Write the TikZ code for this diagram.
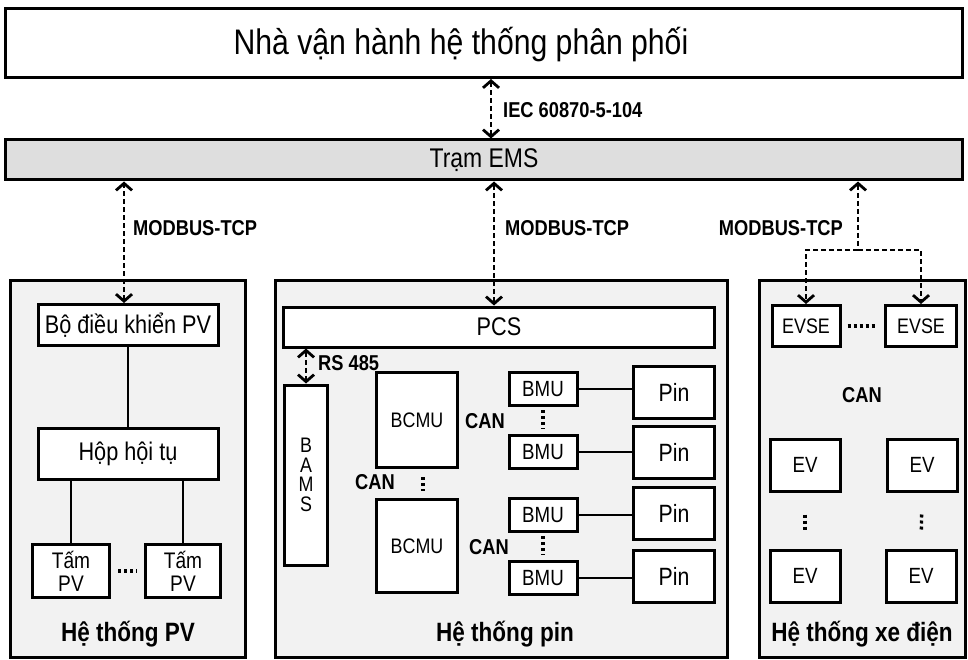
\documentclass[tikz,border=0pt]{standalone}
\usepackage{fontspec}
\setmainfont{Liberation Sans}[FakeStretch=0.85]
\usetikzlibrary{arrows.meta}

\begin{document}
\begin{tikzpicture}[x=1pt, y=-1pt,
    box/.style={draw, line width=3pt, fill=white, inner sep=0pt, font=\fontsize{25.5}{28}\selectfont},
    small/.style={box, font=\fontsize{21}{23}\selectfont},
    panel/.style={draw, line width=3pt, fill=black!5},
    link/.style={line width=2.8pt, dash pattern=on 5pt off 3pt, >={Straight Barb[length=7pt,width=16pt]}},
    wire/.style={line width=2.6pt},
    dots/.style={line width=3.4pt, dash pattern=on 3pt off 3pt},
    lab/.style={font=\bfseries\fontsize{21.5}{23}\selectfont, inner sep=0pt},
    sys/.style={font=\bfseries\fontsize{26.5}{28}\selectfont, inner sep=0pt}]
    \useasboundingbox (0,0) rectangle (968,660);
    \node[box, minimum width=957pt, minimum height=69pt] (ops) at (484,43) {};
    \node[font=\fontsize{35.5}{38}\selectfont, inner sep=0pt] (opstext) at (461,45) {Nhà vận hành hệ thống phân phối};
    \node[box, fill=black!13, minimum width=957pt, minimum height=40pt, font=\fontsize{27}{29}\selectfont] (ems) at (484,160) {Trạm EMS};
    \draw[link,<->] ([xshift=7pt]ops.south) -- ([xshift=7pt]ems.north);
    \node[lab, anchor=west] (iec) at (503,110) {IEC 60870-5-104};

    \draw[panel] (10,280) rectangle (245,657);
    \draw[panel] (275,280) rectangle (727,657);
    \draw[panel] (759,280) rectangle (965,657);

    \node[box, minimum width=180pt, minimum height=41pt] (ctrl) at (128,325) {Bộ điều khiển PV};
    \node[box, minimum width=180pt, minimum height=51pt] (hop) at (128,454) {Hộp hội tụ};
    \node[box, minimum width=77pt, minimum height=53pt, align=center, font=\fontsize{22.5}{23}\selectfont] (tam1) at (71,571) {Tấm\\PV};
    \node[box, minimum width=75pt, minimum height=53pt, align=center, font=\fontsize{22.5}{23}\selectfont] (tam2) at (183,571) {Tấm\\PV};
    \node[sys] (pvsys) at (128,634) {Hệ thống PV};
    \draw[wire] (ctrl) -- (hop);
    \draw[wire] (tam1.north) -- (tam1.north |- hop.south);
    \draw[wire] (tam2.north) -- (tam2.north |- hop.south);
    \draw[dots, shorten <=7pt, shorten >=7pt] (tam1.east) -- (tam2.west);
    \draw[link,<->] ([xshift=-4pt]ctrl.north) -- ([xshift=-4pt]ctrl.north |- ems.south);
    \node[lab, anchor=west] (mb1) at (133,228) {MODBUS-TCP};

    \node[box, minimum width=431pt, minimum height=40pt] (pcs) at (499,327) {PCS};
    \node[small, minimum width=43pt, minimum height=180pt, align=center, font=\fontsize{21}{19.5}\selectfont] (bams) at (306,475) {B\\A\\M\\S};
    \node[small, minimum width=81pt, minimum height=95pt] (bcmu1) at (417,420) {BCMU};
    \node[small, minimum width=81pt, minimum height=93pt] (bcmu2) at (417,546) {BCMU};
    \foreach \i/\y in {1/389,2/452,3/515,4/578}
        \node[small, minimum width=68pt, minimum height=33pt, font=\fontsize{22}{24}\selectfont] (bmu\i) at (543,\y) {BMU};
    \foreach \i/\y in {1/392,2/452,3/513,4/576}
        \node[box, minimum width=81pt, minimum height=52pt, font=\fontsize{25}{27}\selectfont] (pin\i) at (674,\y) {Pin};
    \foreach \i in {1,...,4}
        \draw[wire] (bmu\i.east) -- (bmu\i.east -| pin\i.west);
    \draw[dots, shorten <=3pt, shorten >=5pt] (bmu1) -- (bmu2);
    \draw[dots, shorten <=3pt, shorten >=5pt] (bmu3) -- (bmu4);
    \draw[dots, shorten <=8pt, shorten >=7pt] ([xshift=6pt]bcmu1.south) -- ([xshift=6pt]bcmu2.north);
    \node[lab] (can0) at (375,482) {CAN};
    \node[lab, anchor=west] (can1) at (465,421) {CAN};
    \node[lab, anchor=west] (can2) at (469,547) {CAN};
    \draw[link,<->] (bams.north |- pcs.south) -- (bams.north);
    \node[lab, anchor=west] (rs) at (318,363) {RS 485};
    \draw[link,<->] ([xshift=-5pt]pcs.north) -- ([xshift=-5pt]pcs.north |- ems.south);
    \node[lab, anchor=west] (mb2) at (505,228) {MODBUS-TCP};
    \node[sys] (batsys) at (505,634) {Hệ thống pin};

    \node[small, minimum width=68pt, minimum height=41pt] (evse1) at (806,326) {EVSE};
    \node[small, minimum width=71pt, minimum height=41pt] (evse2) at (921,326) {EVSE};
    \node[small, minimum width=70pt, minimum height=52pt, font=\fontsize{22}{24}\selectfont] (ev1) at (805,465) {EV};
    \node[small, minimum width=70pt, minimum height=52pt, font=\fontsize{22}{24}\selectfont] (ev2) at (922,465) {EV};
    \node[small, minimum width=70pt, minimum height=52pt, font=\fontsize{22}{24}\selectfont] (ev3) at (805,576) {EV};
    \node[small, minimum width=70pt, minimum height=52pt, font=\fontsize{22}{24}\selectfont] (ev4) at (921,576) {EV};
    \draw[dots, shorten <=6pt, shorten >=7pt] (evse1) -- (evse2);
    \draw[dots, shorten <=22pt, shorten >=18pt] (ev1) -- (ev3);
    \draw[dots, shorten <=22pt, shorten >=18pt] (ev2) -- (ev4);
    \node[lab] (can3) at (862,395) {CAN};
    \coordinate (split) at (858,250);
    \draw[link,<-] (ems.south -| split) -- (split);
    \draw[link,->] (split) -| (evse1.north);
    \draw[link,->] (split) -| (evse2.north);
    \node[lab, anchor=east] (mb3) at (843,228) {MODBUS-TCP};
    \node[sys] (evsys) at (862,634) {Hệ thống xe điện};
\end{tikzpicture}
\end{document}
